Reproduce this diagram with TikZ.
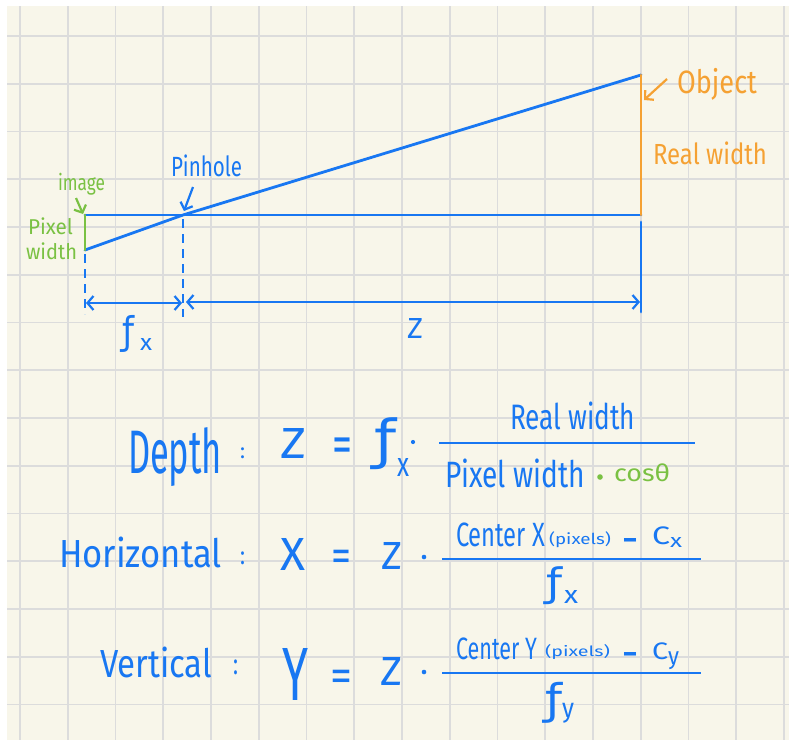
\documentclass[tikz,border=0pt]{standalone}
\usepackage{fontspec}
\setmainfont{Fira Sans}
\newfontfamily\dvfont{DejaVu Sans}
\usetikzlibrary{arrows.meta}
\definecolor{bl}{HTML}{1877F2}
\definecolor{gr}{HTML}{7AC143}
\definecolor{orng}{HTML}{F5A133}
\definecolor{paper}{HTML}{F8F6EA}
\definecolor{gridc}{HTML}{DCDCDC}
\newcommand{\bx}[3]{\resizebox*{#1pt}{#2pt}{#3}}
\newcommand{\ff}{{\dvfont ƒ}}
\begin{document}
\begin{tikzpicture}[x=1pt,y=-1pt,
  tx/.style={inner sep=0pt,outer sep=0pt,anchor=north west},
  sy/.style={inner sep=0pt,outer sep=0pt,anchor=south west},
  ln/.style={line width=2.8pt,line cap=round},
  dsh/.style={line width=1.8pt,dash pattern=on 9pt off 6pt},
  dimarr/.style={line width=2.2pt,<->,>={Straight Barb[length=6pt,width=14pt,line width=2.2pt]}},
  pointer/.style={line width=2.2pt,->,>={Straight Barb[length=6pt,width=13pt,line width=2.2pt]}},
  frac/.style={line width=2.8pt},
  mdot/.style={fill=bl}]
\useasboundingbox (0,0) rectangle (789,740);
\fill[white] (0,0) rectangle (789,740);
\fill[paper] (7,6) rectangle (789,740);
\foreach \k in {0,...,16} \draw[gridc,line width=1.8pt] ({20+47.75*\k},6) -- ({20+47.75*\k},740);
\foreach \k in {0,...,14} \draw[gridc,line width=1.8pt] (7,{36+47.75*\k}) -- (789,{36+47.75*\k});

% ---- pinhole geometry ----
\coordinate (imgT) at (85,215);
\coordinate (imgB) at (85,250);
\coordinate (pin) at (183,215);
\coordinate (objT) at (641,75);
\coordinate (objB) at (641,215);
\coordinate (zT) at (641,222);
\coordinate (zB) at (641,312);
\coordinate (dl1) at (85,254);
\coordinate (dl2) at (85,314);
\coordinate (dp1) at (183,219);
\coordinate (dp2) at (183,317);
\coordinate (fxL) at (86,303);
\coordinate (fxR) at (182,303);
\coordinate (zL) at (186,302);
\coordinate (zR) at (640,302);

\draw[ln,bl] (imgT) -- (objB);
\draw[ln,bl] (imgB) -- (pin) -- (objT);
\draw[ln,gr] (imgT) -- (imgB);
\draw[ln,orng] (objT) -- (objB);
\draw[ln,bl] (zT) -- (zB);
\draw[dsh,bl] (dl1) -- (dl2);
\draw[dsh,bl] (dp1) -- (dp2);
\draw[dimarr,bl] (fxL) -- (fxR);
\draw[dimarr,bl] (zL) -- (zR);

% labels
\node[tx,bl] (pinhole) at (171,155) {\bx{71}{22}{Pinhole}};
\coordinate (pinA) at (193,187);
\coordinate (pinTip) at (184,211);
\draw[pointer,bl] (pinA) -- (pinTip);

\node[tx,gr] (image) at (58,173) {\bx{47}{22}{image}};
\coordinate (imgA) at (76,198);
\coordinate (imgTip) at (83,214);
\draw[pointer,gr] (imgA) -- (imgTip);
\node[tx,gr] (pixel) at (28,218) {\bx{45}{17}{Pixel}};
\node[tx,gr] (pwidth) at (26,243) {\bx{51}{17}{width}};

\node[tx,orng] (object) at (677,68) {\bx{80}{32}{Object}};
\coordinate (objA) at (667,79);
\coordinate (objTip) at (644,100);
\draw[pointer,orng] (objA) -- (objTip);
\node[tx,orng] (realw) at (653,142) {\bx{114}{23}{Real width}};

\node[tx,bl] (fxf) at (122,315) {\bx{12}{37}{\ff}};
\node[tx,bl] (fxx) at (140,338) {\bx{12}{12}{x}};
\node[tx,bl] (zlab) at (407,318) {\bx{16}{20}{Z}};

% ---- Depth ----
\node[tx,bl] (depth) at (128,428) {\bx{94}{59}{Depth}};
\node[tx,bl] (c1) at (240,448) {\bx{5}{11}{:}};
\node[tx,bl] (dZ) at (280,428) {\bx{26}{30}{Z}};
\node[sy,bl] (dEq) at (332,462.6) {\bx{20}{24.6}{=}};
\node[tx,bl] (dF) at (374,418) {\bx{22}{52}{\ff}};
\node[tx,bl] (dFx) at (397,458) {\bx{12}{18}{x}};
\fill[mdot] (413,442) circle (2.1);
\coordinate (f1L) at (439,443);
\coordinate (f1R) at (695,443);
\draw[frac,bl] (f1L) -- (f1R);
\node[tx,bl] (dNum) at (510,402) {\bx{125}{28}{Real width}};
\node[tx,bl] (dDen) at (445,459) {\bx{140}{29}{Pixel width}};
\fill[gr] (600,477) circle (2.8);
\node[tx,gr] (cos) at (614,464) {\bx{56}{18}{cosθ}};

% ---- Horizontal ----
\node[tx,bl] (horiz) at (59,537) {\bx{163}{31}{Horizontal}};
\node[tx,bl] (c2) at (240,552) {\bx{5}{13}{:}};
\node[tx,bl] (hX) at (280,538) {\bx{25}{32}{X}};
\node[sy,bl] (hEq) at (331,571.3) {\bx{20}{21.3}{=}};
\node[tx,bl] (hZ) at (381,542) {\bx{21}{27}{Z}};
\fill[mdot] (424,557) circle (2.3);
\coordinate (f2L) at (442,559);
\coordinate (f2R) at (701,559);
\draw[frac,bl] (f2L) -- (f2R);
\node[tx,bl] (hN1) at (456,523) {\bx{89}{24}{Center X}};
\node[tx,bl] (hN2) at (549,532) {\bx{62}{16}{(pixels)}};
\node[sy,bl] (hMin) at (622,555) {\bx{16}{17}{−}};
\node[tx,bl] (hC) at (652,527) {\bx{18}{18}{C}};
\node[tx,bl] (hCx) at (670,537) {\bx{12}{10}{x}};
\node[tx,bl] (hDf) at (546,567) {\bx{16}{38}{\ff}};
\node[tx,bl] (hDx) at (564,590) {\bx{14}{13}{x}};

% ---- Vertical ----
\node[tx,bl] (vert) at (100,647) {\bx{112}{31}{Vertical}};
\node[tx,bl] (c3) at (233,660) {\bx{5}{15}{:}};
\node[tx,bl] (vY) at (282,648) {\bx{26}{52}{Y}};
\node[sy,bl] (vEq) at (330,691.3) {\bx{22}{21.3}{=}};
\node[tx,bl] (vZ) at (380,657) {\bx{22}{28}{Z}};
\fill[mdot] (424,672) circle (2.3);
\coordinate (f3L) at (442,673);
\coordinate (f3R) at (701,673);
\draw[frac,bl] (f3L) -- (f3R);
\node[tx,bl] (vN1) at (456,638) {\bx{81}{22}{Center Y}};
\node[tx,bl] (vN2) at (545,645) {\bx{65}{15}{(pixels)}};
\node[sy,bl] (vMin) at (622,669) {\bx{16}{17}{−}};
\node[tx,bl] (vC) at (652,643) {\bx{16}{17}{C}};
\node[tx,bl] (vCy) at (668,652) {\bx{11}{18}{y}};
\node[tx,bl] (vDf) at (545,682) {\bx{17}{41}{\ff}};
\node[tx,bl] (vDy) at (562,703) {\bx{12}{20}{y}};
\end{tikzpicture}
\end{document}
